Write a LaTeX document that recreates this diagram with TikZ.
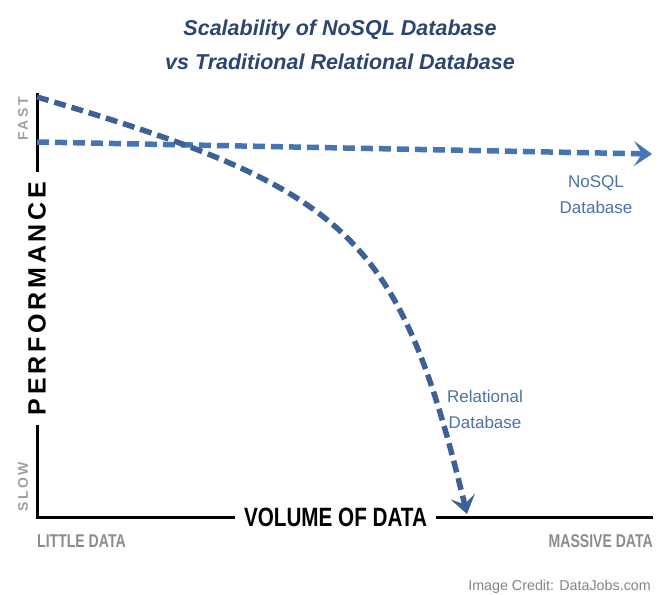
\documentclass[tikz,border=0pt]{standalone}
\usepackage{fontspec}
\setmainfont{Liberation Sans}
\newfontfamily\condfont[FakeStretch=0.78]{Liberation Sans}
\newfontfamily\graycond[FakeStretch=0.76]{Liberation Sans}
\newfontfamily\perffont[LetterSpace=15]{Liberation Sans}
\newfontfamily\sidefont[LetterSpace=18]{Liberation Sans}
\usetikzlibrary{arrows.meta}
\definecolor{titleblue}{HTML}{2C4670}
\definecolor{relblue}{HTML}{3D6196}
\definecolor{nosqlblue}{HTML}{4675B5}
\definecolor{labelblue}{HTML}{4C72A8}
\definecolor{axisgray}{HTML}{8C8C8C}
\definecolor{endgray}{HTML}{A0A0A0}
\definecolor{creditgray}{HTML}{858585}
\begin{document}
\begin{tikzpicture}[x=1pt,y=-1pt,
  axisline/.style={line width=3pt, black},
  curve/.style={line width=5.5pt, dash pattern=on 12pt off 6pt,
    -{Stealth[length=18pt,width=25pt,inset=8pt]}},
  titletext/.style={anchor=base, inner sep=0pt, text=titleblue,
    font=\fontsize{21.5}{21.5}\selectfont\bfseries\itshape},
  axistitle/.style={inner sep=0pt, text=black,
    font=\condfont\fontsize{26.5}{26.5}\selectfont\bfseries},
  endlabel/.style={inner sep=0pt, text=axisgray,
    font=\graycond\fontsize{18.5}{18.5}\selectfont\bfseries},
  sidelabel/.style={inner sep=0pt, text=endgray, rotate=90,
    font=\sidefont\fontsize{14}{14}\selectfont\bfseries},
  serieslabel/.style={inner sep=0pt, text=labelblue, align=center,
    font=\fontsize{17}{26}\selectfont}
]
\fill[white] (0,0) rectangle (663,594);
\useasboundingbox (0,0) rectangle (663,594);

% title
\node[titletext] (t1) at (340,35.5) {Scalability of NoSQL Database};
\node[titletext] (t2) at (340,69.5) {vs Traditional Relational Database};

% axes
\coordinate (top) at (37,93);
\coordinate (origin) at (37,517);
\coordinate (xend) at (653,517);
\draw[axisline] (top) -- (origin) -- (xend);

\node[fill=white, inner xsep=10pt, inner ysep=2pt, rotate=90, text=black,
  font=\perffont\fontsize{25}{25}\selectfont\bfseries] (perf) at (37,298.5) {PERFORMANCE};
\node[axistitle, fill=white, inner xsep=9pt, inner ysep=3pt] (vol) at (335.5,517.5) {VOLUME OF DATA};

\node[sidelabel] (fast) at (23,119) {FAST};
\node[sidelabel] (slow) at (23,487) {SLOW};

\node[endlabel, anchor=base west] (little) at (37,547) {LITTLE DATA};
\node[endlabel, anchor=base east] (massive) at (653,547) {MASSIVE DATA};

\node[anchor=base east, inner sep=0pt, text=creditgray,
  font=\fontsize{14.3}{14.3}\selectfont] (credit) at (651,590.5) {Image Credit: DataJobs.com};

% NoSQL line
\coordinate (n0) at (37,142);
\coordinate (n1) at (652,154);
\draw[curve, nosqlblue] (n0) -- (n1);

% Relational curve
\coordinate (r0) at (37,97);
\coordinate (r1) at (467,514);
\draw[curve, relblue] (r0) .. controls (348,189) and (398.8,233) .. (r1);

% series labels (base = last line)
\node[serieslabel, anchor=base] (nosql) at (596,213) {NoSQL\\Database};
\node[serieslabel, anchor=base] (rel) at (485,428) {Relational\\Database};
\end{tikzpicture}
\end{document}
